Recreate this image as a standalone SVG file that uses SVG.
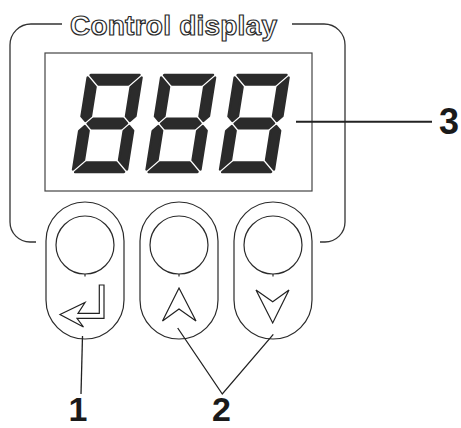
<svg xmlns="http://www.w3.org/2000/svg" width="461" height="428" viewBox="0 0 461 428">
<style>
.frame{fill:none;stroke:#333;stroke-width:1.3}
.thin{fill:none;stroke:#2a2a2a;stroke-width:1.2}
.icon{fill:none;stroke:#222;stroke-width:1.2;stroke-linejoin:miter}
.seg{fill:#2b2b2b;stroke:#2b2b2b;stroke-width:2.4;stroke-linejoin:round}
.lead{fill:none;stroke:#222;stroke-width:1.3}
.title{font-family:"Liberation Sans",Arial,sans-serif;font-weight:bold;font-size:28px;fill:#fff;stroke:#2a2a2a;stroke-width:1.2}
.num{font-family:"Liberation Sans",Arial,sans-serif;font-weight:bold;font-size:36px;fill:#1a1a1a;text-anchor:middle}
.lab{font-family:"Liberation Sans",Arial,sans-serif;font-weight:bold;font-size:34px;fill:#1a1a1a;text-anchor:middle}
</style>
<defs>
<g id="digit">
<polygon class="seg" points="2.5,0 51.5,0 42,9.5 12,9.5"/>
<polygon class="seg" points="0,2.5 9.5,12 9.5,41.25 4.75,46 0,41.25"/>
<polygon class="seg" points="54,2.5 54,41.25 49.25,46 44.5,41.25 44.5,12"/>
<polygon class="seg" points="7.25,48.5 12,43.75 42,43.75 46.75,48.5 42,53.25 12,53.25"/>
<polygon class="seg" points="0,55.75 4.75,51 9.5,55.75 9.5,85 0,94.5"/>
<polygon class="seg" points="54,55.75 54,94.5 44.5,85 44.5,55.75 49.25,51"/>
<polygon class="seg" points="2.5,97 12,87.5 42,87.5 51.5,97"/>
</g>
</defs>
<g id="frame">
<path class="frame" d="M62,24 H31 A21,21 0 0 0 10,45 V222 A20,20 0 0 0 30,242 H36"/>
<path class="frame" d="M292,24 H324 A21,21 0 0 1 345,45 V222 A20,20 0 0 1 325,242 H320"/>
<text class="title" x="70" y="34.5" textLength="207" lengthAdjust="spacing">Control display</text>
</g>
<g id="display">
<rect class="frame" x="45" y="53" width="267" height="138" style="stroke:#444;stroke-width:1.2"/>
<use href="#digit" transform="translate(88,75) skewX(-9)"/>
<use href="#digit" transform="translate(161.5,75) skewX(-9)"/>
<use href="#digit" transform="translate(235,75) skewX(-9)"/>
</g>
<g id="btn-enter">
<rect class="thin" x="46" y="202" width="78" height="137" rx="39" ry="39"/>
<circle class="thin" cx="85" cy="245" r="29"/>
<line class="thin" x1="85" y1="274" x2="85" y2="276.5"/>
<polygon class="icon" points="60,314.5 85,302.5 78,313.3 99.3,313.3 99.3,285 104,285 104,318.3 77,318.3 83.5,327"/>
</g>
<g id="btn-up">
<rect class="thin" x="140" y="202" width="78" height="137" rx="39" ry="39"/>
<circle class="thin" cx="179" cy="245" r="29"/>
<line class="thin" x1="179" y1="274" x2="179" y2="276.5"/>
<polygon class="icon" points="179,288 196,321 179,309 162.5,321"/>
</g>
<g id="btn-down">
<rect class="thin" x="234" y="202" width="78" height="137" rx="39" ry="39"/>
<circle class="thin" cx="273" cy="245" r="29"/>
<line class="thin" x1="273" y1="274" x2="273" y2="276.5"/>
<polygon class="icon" points="256,290 272.7,301.7 289,290 272.7,323"/>
</g>
<g id="connectors">
<line x1="296" y1="121.7" x2="432" y2="121.7" stroke="#222" stroke-width="2"/>
<line class="lead" x1="82.5" y1="336" x2="81" y2="394"/>
<polyline class="lead" points="177.7,328 222.3,394 273.3,334.3"/>
</g>
<g id="labels">
<text class="num" x="449" y="134">3</text>
<text class="lab" x="78" y="421">1</text>
<text class="lab" x="221.5" y="421">2</text>
</g>
</svg>
